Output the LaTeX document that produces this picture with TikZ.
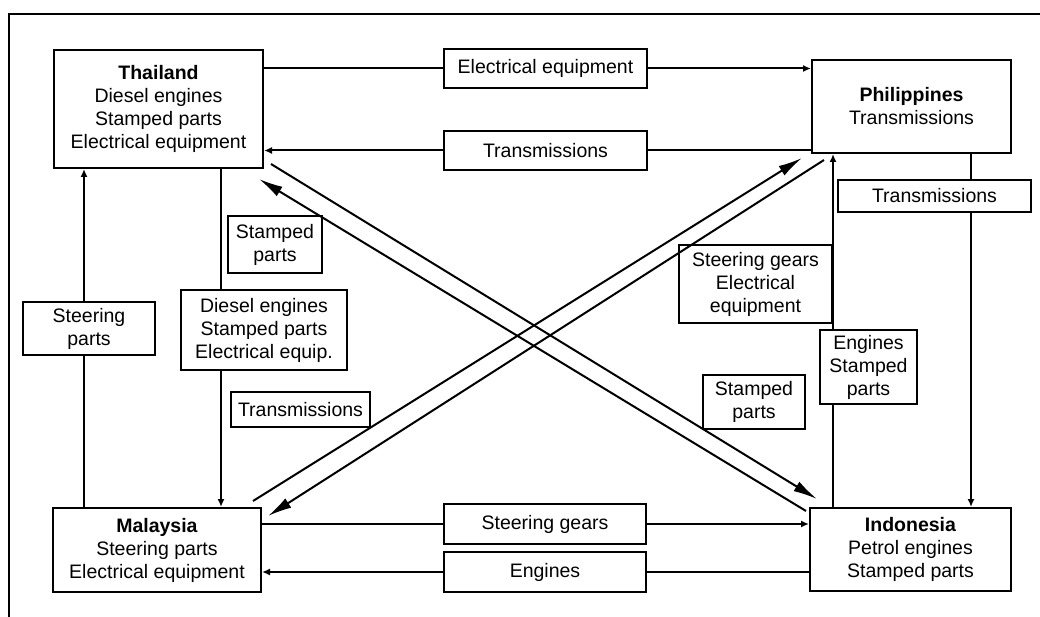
\documentclass[tikz,border=0pt]{standalone}
\usepackage{fontspec}
\setmainfont{Liberation Sans}
\usepackage{tikz}
\usetikzlibrary{arrows.meta,calc}

\begin{document}
\begin{tikzpicture}[x=1pt,y=-1pt,line width=2pt,
    country/.style={draw,align=center,inner sep=0pt,font=\fontsize{19.5}{23}\selectfont},
    goods/.style={draw,align=center,inner sep=0pt,font=\fontsize{19.5}{23}\selectfont},
    flow/.style={-{Latex[length=8pt,width=7pt]}},
    cross/.style={-{Latex[length=24pt,width=11pt]}}]
    \useasboundingbox (0,0) rectangle (1040,617);
    %%Frame
    \draw (9,617) -- (9,14) -- (1040,14);
    %%Countries
    \node[country, minimum width=209pt, minimum height=118pt] (thai) at (158.5,109)
        {\textbf{Thailand}\\Diesel engines\\Stamped parts\\Electrical equipment};
    \node[country, minimum width=199pt, minimum height=93pt] (phil) at (911.5,106.5)
        {\textbf{Philippines}\\Transmissions};
    \node[country, minimum width=208pt, minimum height=84pt] (malay) at (157,550)
        {\textbf{Malaysia}\\Steering parts\\Electrical equipment};
    \node[country, minimum width=201pt, minimum height=83pt] (indo) at (910.5,549.5)
        {\textbf{Indonesia}\\Petrol engines\\Stamped parts};
    %%Goods
    \node[goods, minimum width=203pt, minimum height=39pt] (elecTop) at (545.5,68.5) {Electrical equipment};
    \node[goods, minimum width=203pt, minimum height=39pt] (transTop) at (545.5,150.5) {Transmissions};
    \node[goods, minimum width=193pt, minimum height=32pt] (transRight) at (934.5,196) {Transmissions};
    \node[goods, minimum width=202pt, minimum height=40pt] (steerBot) at (545,524) {Steering gears};
    \node[goods, minimum width=202pt, minimum height=40pt] (engBot) at (545,572) {Engines};
    \node[goods, minimum width=132pt, minimum height=53pt] (steerLeft) at (89,328.5) {Steering\\parts};
    \node[goods, minimum width=94pt, minimum height=57pt] (stampA) at (275,244.5) {Stamped\\parts};
    \node[goods, minimum width=166pt, minimum height=80pt] (diesel) at (264,330)
        {Diesel engines\\Stamped parts\\Electrical equip.};
    \node[goods, minimum width=139pt, minimum height=35pt] (transLow) at (300.5,409.5) {Transmissions};
    \node[goods, minimum width=153pt, minimum height=78pt] (steerElec) at (755.5,284)
        {Steering gears\\Electrical\\equipment};
    \node[goods, minimum width=97pt, minimum height=74pt] (engStamp) at (868.5,367)
        {Engines\\Stamped\\parts};
    \node[goods, minimum width=102pt, minimum height=54pt] (stampB) at (754,402) {Stamped\\parts};
    %%Columns of the vertical flows
    \coordinate (colML) at (84,0);
    \coordinate (colTM) at (221,0);
    \coordinate (colIP) at (833,0);
    \coordinate (colPI) at (971,0);
    %%Horizontal flows
    \draw (thai.east |- elecTop) -- (elecTop.west);
    \draw[flow] (elecTop.east) -- (elecTop.east -| phil.west);
    \draw (phil.west |- transTop) -- (transTop.east);
    \draw[flow] (transTop.west) -- (transTop.west -| thai.east);
    \draw (malay.east |- steerBot) -- (steerBot.west);
    \draw[flow] (steerBot.east) -- (steerBot.east -| indo.west);
    \draw (indo.west |- engBot) -- (engBot.east);
    \draw[flow] (engBot.west) -- (engBot.west -| malay.east);
    %%Vertical flows
    \draw (malay.north -| colML) -- (steerLeft.south -| colML);
    \draw[flow] (steerLeft.north -| colML) -- (thai.south -| colML);
    \draw (thai.south -| colTM) -- (diesel.north -| colTM);
    \draw[flow] (diesel.south -| colTM) -- (malay.north -| colTM);
    \draw (phil.south -| colPI) -- (transRight.north -| colPI);
    \draw[flow] (transRight.south -| colPI) -- (indo.north -| colPI);
    \draw (indo.north -| colIP) -- (engStamp.south -| colIP);
    \draw[flow] (engStamp.north -| colIP) -- (phil.south -| colIP);
    %%Diagonal flows
    \draw[cross] ($(malay.north east)+(-9,-6)$) -- ($(phil.south west)+(-9,4)$);
    \draw[cross] ($(phil.south west)+(13,6)$) -- ($(malay.north east)+(6,9)$);
    \draw[cross] ($(thai.south east)+(7,-5)$) -- ($(indo.north west)+(8,-8)$);
    \draw[cross] ($(indo.north west)+(-3,4)$) -- ($(thai.south east)+(-5,10)$);
\end{tikzpicture}
\end{document}
